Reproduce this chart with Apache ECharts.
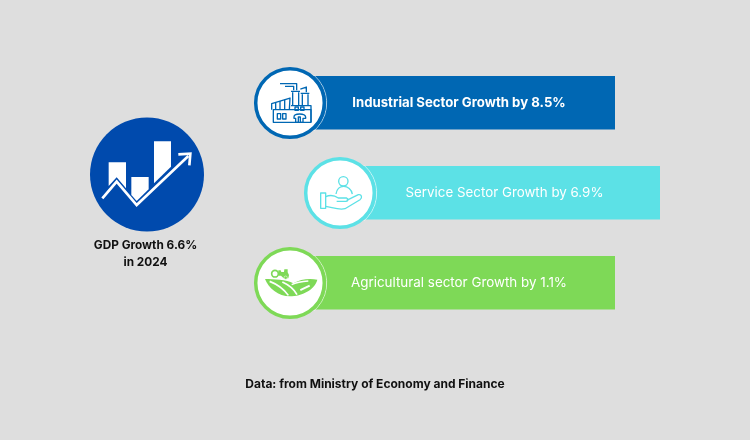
<!DOCTYPE html>
<html>
<head>
<meta charset="utf-8">
<style>
  html, body { margin: 0; padding: 0; background: #dedede; }
  #chart { width: 750px; height: 440px; }
</style>
<script src="https://cdn.jsdelivr.net/npm/echarts@6/dist/echarts.min.js"></script>
</head>
<body>
<div id="chart"></div>
<script>
// data
var sectors = ["Industrial Sector", "Service Sector", "Agricultural sector"];
var growth = [8.5, 6.9, 1.1];
var gdpGrowth = 6.6;
var gdpYear = 2024;
var source = "Data: from Ministry of Economy and Finance";

var font = "Inter";
var rowColors = ["#0067b3", "#5ce1e6", "#7ed957"];
var rowWeights = [700, 400, 400];
var rowSizes = [13.2, 13.35, 13.4];
var circleX = [290, 340, 290];
var barEnd = [615, 660, 615];
var textX = [459, 504.5, 459];

// icons are traced at 3x, with the origin at the top left of a 120x90 crop
function factoryIcon(c) {
  var st = { fill: null, stroke: c, lineWidth: 4, lineJoin: "round" };
  var paths = [
    "M85 150H198V188H85Z",
    "M138 138H198V188",
    "M80 150V132L135 115L133 150",
    "M92 128V150M105 124V150M119 120V150",
    "M143 98V138M161 98V138M172 104V138M189 104V138",
    "M138 95H165M167 101H193",
    "M105 72H155V92M120 80H146V92M166 88L184 82V98",
    "M97 162H107V178H97ZM113 162H123V178H113Z",
    "M150 142H160V152H150ZM167 142H177V152H167Z",
    "M147 172C147 160 180 160 182 172V176H174V188H166V172H160V188H152V176H147Z"
  ];
  return paths.map(function (d) {
    return { type: "path", shape: { pathData: d }, style: st };
  });
}

function handIcon(c) {
  var st = { fill: null, stroke: c, lineWidth: 4, lineJoin: "round" };
  var paths = [
    "M131 95A14 14 0 1 0 159 95A14 14 0 1 0 131 95Z",
    "M123 133C125 118 135 110 146 110C158 110 170 120 172 133",
    "M77 130H92V176H77Z",
    "M92 141C108 134 120 138 130 145H155C161 147 159 155 152 155H125",
    "M155 152L190 135C200 133 203 144 195 150L150 177C130 182 110 172 92 170"
  ];
  return paths.map(function (d) {
    return { type: "path", shape: { pathData: d }, style: st };
  });
}

function farmIcon(c) {
  var fields = "M60 118C85 118 125 120 145 131C165 118 195 115 217 120C210 150 170 170 135 170C100 170 70 145 60 118Z";
  var tractor = "M100 92H107L109 97H117L118 89H128V98L132 106L130 116H116L108 108H100Z";
  return [
    { type: "path", shape: { pathData: fields }, style: { fill: c } },
    { type: "path", shape: { pathData: "M74 125C100 135 118 150 130 167" }, style: { fill: null, stroke: "#fff", lineWidth: 5 } },
    { type: "path", shape: { pathData: "M112 127C130 135 148 150 156 165" }, style: { fill: null, stroke: "#fff", lineWidth: 5 } },
    { type: "path", shape: { pathData: "M140 135C150 130 170 125 190 124" }, style: { fill: null, stroke: "#fff", lineWidth: 4 } },
    { type: "path", shape: { pathData: "M166 151L194 138" }, style: { fill: null, stroke: "#fff", lineWidth: 6 } },
    { type: "path", shape: { pathData: tractor }, style: { fill: c } },
    { type: "circle", shape: { cx: 90, cy: 102, r: 10 }, style: { fill: "#fff", stroke: c, lineWidth: 5 } },
    { type: "circle", shape: { cx: 122, cy: 114, r: 5 }, style: { fill: c, stroke: "#fff", lineWidth: 1.5 } }
  ];
}

var icons = [factoryIcon, handIcon, farmIcon];

function renderRow(params, api) {
  var i = api.value(0);
  var cy = api.coord([0, i])[1];
  var cx = api.coord([circleX[i], i])[0];
  var right = api.coord([barEnd[i], i])[0];
  var c = rowColors[i];
  return {
    type: "group",
    children: [
      { type: "rect", shape: { x: cx, y: cy - 27, width: right - cx, height: 53.5 }, style: { fill: c } },
      { type: "arc", shape: { cx: cx, cy: cy, r: 36.7, startAngle: -0.85, endAngle: 0.85 }, style: { fill: null, stroke: "rgba(255,255,255,0.65)", lineWidth: 1 } },
      { type: "circle", shape: { cx: cx, cy: cy, r: 34.3 }, style: { fill: "#fff", stroke: c, lineWidth: 3.5 } },
      { type: "group", x: cx - 45, y: cy - 43.3, scaleX: 1 / 3, scaleY: 1 / 3, children: icons[i](c) },
      {
        type: "text",
        style: {
          x: api.coord([textX[i], i])[0], y: cy,
          text: sectors[i] + " Growth by " + api.value(1) + "%",
          fill: "#fff", font: rowWeights[i] + " " + rowSizes[i] + "px " + font,
          align: "center", verticalAlign: "middle"
        }
      }
    ]
  };
}

// badge on the left, traced at 3x from the top left of a 160x180 crop
var badgeBars = [
  [[116, 187], [168, 187], [168, 265], [140, 232], [116, 258]],
  [[184, 231], [236, 231], [236, 268], [200, 303], [184, 285]],
  [[252, 124], [303, 124], [303, 200], [252, 250]]
];
var badgeArrow = [[97, 295], [140, 245], [200, 315], [355, 168]];
var badgeHead = [[325, 163], [361, 161], [358, 196]];

var chart = echarts.init(document.getElementById("chart"));
chart.setOption({
  backgroundColor: "#dedede",
  animation: false,
  grid: { left: 0, top: 58, width: 750, height: 270 },
  xAxis: { type: "value", min: 0, max: 750, show: false },
  yAxis: { type: "category", data: sectors, inverse: true, show: false },
  series: [
    {
      type: "custom",
      coordinateSystem: "cartesian2d",
      renderItem: renderRow,
      encode: { x: 1, y: 0 },
      data: growth.map(function (v, i) { return [i, v]; })
    }
  ],
  graphic: [
    { type: "circle", shape: { cx: 147, cy: 174.5, r: 57 }, style: { fill: "#004aad" } },
    {
      type: "group", x: 70, y: 100, scaleX: 1 / 3, scaleY: 1 / 3,
      children: badgeBars.map(function (p) {
        return { type: "polygon", shape: { points: p }, style: { fill: "#fff" } };
      }).concat([
        { type: "polyline", shape: { points: badgeArrow }, style: { fill: null, stroke: "#fff", lineWidth: 8 } },
        { type: "polyline", shape: { points: badgeHead }, style: { fill: null, stroke: "#fff", lineWidth: 8 } }
      ])
    },
    {
      type: "text", x: 145.5, y: 245,
      style: { text: "GDP Growth " + gdpGrowth + "%", fill: "#111", font: "700 11.8px " + font, align: "center", verticalAlign: "middle" }
    },
    {
      type: "text", x: 145.5, y: 262,
      style: { text: "in " + gdpYear, fill: "#111", font: "700 11.8px " + font, align: "center", verticalAlign: "middle" }
    },
    {
      type: "text", x: 375, y: 384,
      style: { text: source, fill: "#111", font: "700 12px " + font, align: "center", verticalAlign: "middle" }
    }
  ]
});
</script>
</body>
</html>
